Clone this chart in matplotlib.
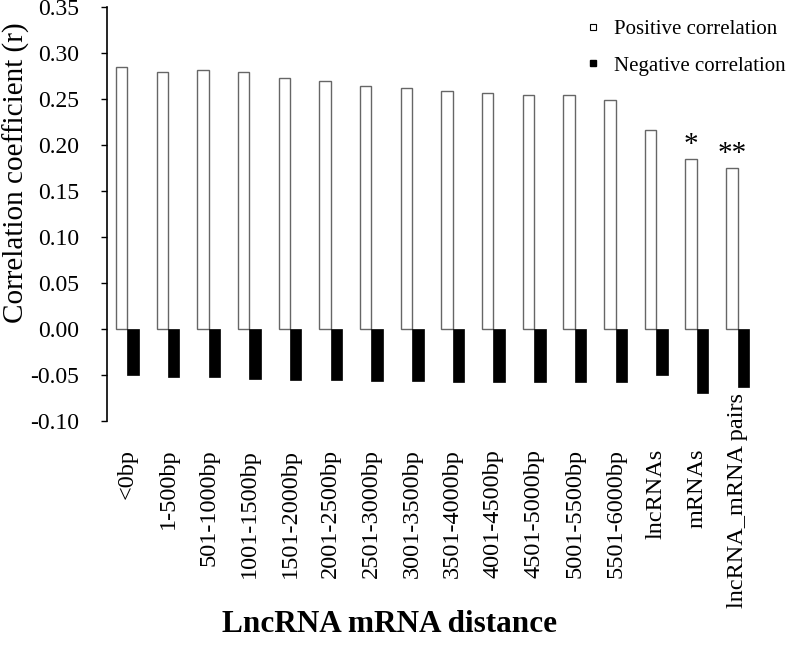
import numpy as np
import matplotlib.pyplot as plt
from matplotlib.lines import Line2D

plt.rcParams['font.family'] = ['Liberation Serif', 'DejaVu Serif']

# categories on the x axis
categories = ["<0bp", "1-500bp", "501-1000bp", "1001-1500bp", "1501-2000bp",
              "2001-2500bp", "2501-3000bp", "3001-3500bp", "3501-4000bp",
              "4001-4500bp", "4501-5000bp", "5001-5500bp", "5501-6000bp",
              "lncRNAs", "mRNAs", "lncRNA_mRNA pairs"]

# correlation coefficients
positive = [0.285, 0.280, 0.282, 0.280, 0.273, 0.270, 0.264, 0.262, 0.259,
            0.257, 0.254, 0.254, 0.249, 0.216, 0.185, 0.175]
negative = [-0.050, -0.052, -0.052, -0.054, -0.055, -0.055, -0.056, -0.056,
            -0.057, -0.057, -0.057, -0.057, -0.057, -0.050, -0.069, -0.063]

# significance marks above positive bars
marks = {"mRNAs": "*", "lncRNA_mRNA pairs": "**"}

x = np.arange(len(categories))
w = 0.28

fig = plt.figure(figsize=(7.87, 6.52), dpi=100)
ax = fig.add_axes([0.136, 0.354, 0.827, 0.635])

ax.bar(x - w / 2, positive, w, color='white', edgecolor='#666666', linewidth=1.0)
ax.bar(x + w / 2, negative, w, color='black', edgecolor='black', linewidth=0.5)

for cat, m in marks.items():
    i = categories.index(cat)
    ax.text(x[i] - w / 2, positive[i] + 0.015, m, ha='center', va='center', fontsize=21)

ax.set_xlim(-0.5, len(categories) - 0.5)
ax.set_ylim(-0.10, 0.35)
yt = np.arange(-0.10, 0.351, 0.05)
ax.set_yticks(yt)
ax.set_yticklabels([f"{v:.2f}" for v in yt], fontsize=17)
ax.tick_params(axis='y', length=4, width=1, pad=16)
ax.set_xticks([])

for s in ['top', 'right', 'bottom']:
    ax.spines[s].set_visible(False)
ax.spines['left'].set_linewidth(1.2)

# rotated category labels below the axis
for i, cat in enumerate(categories):
    if cat == "lncRNA_mRNA pairs":
        # the long label sits centred lower than the rest, as in the original
        ax.text(x[i], -0.186, cat, rotation=90, ha='center', va='center',
                fontsize=17.5, clip_on=False)
    else:
        ax.text(x[i], -0.130, cat, rotation=90, ha='center', va='top',
                fontsize=17.5, clip_on=False)

ax.set_ylabel("Correlation coefficient (r)", fontsize=21)
ax.yaxis.set_label_coords(-0.118, 0.60)
fig.text(0.495, 0.042, "LncRNA mRNA distance", ha='center', va='center',
         fontsize=22.5, fontweight='bold')

handles = [Line2D([], [], linestyle='none', marker='s', markersize=4,
                  markerfacecolor='white', markeredgecolor='black', markeredgewidth=0.8),
           Line2D([], [], linestyle='none', marker='s', markersize=4,
                  markerfacecolor='black', markeredgecolor='black')]
ax.legend(handles, ["Positive correlation", "Negative correlation"],
          loc='upper right', bbox_to_anchor=(1.071, 1.015), frameon=False,
          fontsize=15, handlelength=0.6, handletextpad=0.7, labelspacing=0.8)

fig.savefig("out.png", dpi=100)
